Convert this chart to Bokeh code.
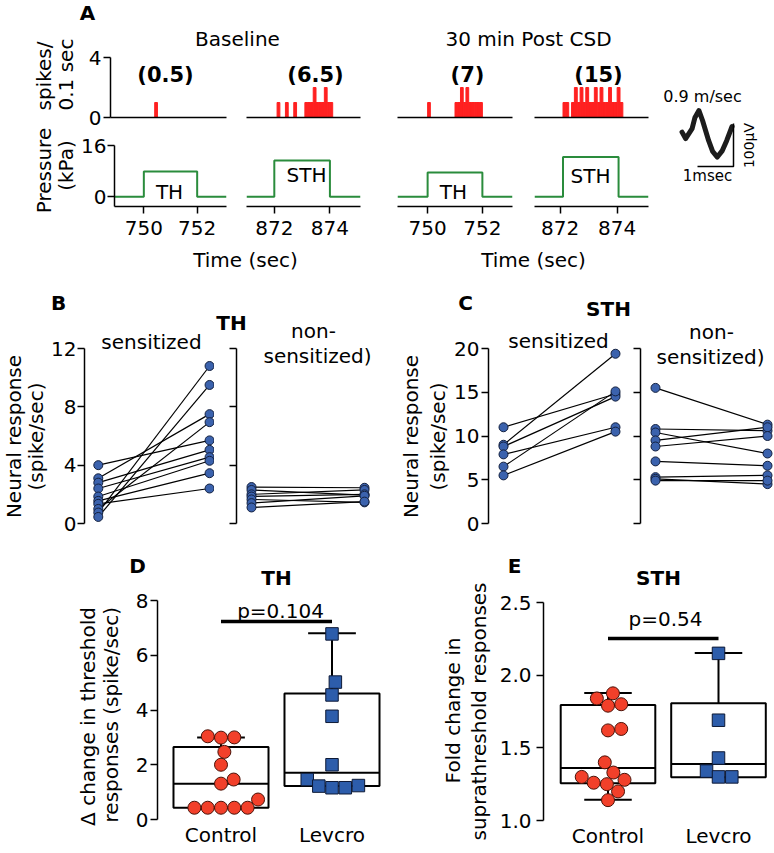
import math
from bokeh.plotting import figure
from bokeh.models import Range1d, LinearAxis, FixedTicker, Label, NumeralTickFormatter
from bokeh.layouts import row, column
from bokeh.embed import file_html
from bokeh.resources import INLINE

FONT = "DejaVu Sans"
FS = "20px"

# ------------------------------------------------------------------ DATA
# Panel A : spikes per 0.1 s bin (bin centre in s, count)
base_th_t = [750.55]
base_th_n = [1]
base_sth_t = [872.15, 872.45, 872.75, 873.15, 873.25, 873.35, 873.45, 873.55,
              873.65, 873.75, 873.85, 873.95, 874.05]
base_sth_n = [1, 1, 1, 1, 1, 1, 2, 1, 1, 1, 2, 1, 1]
post_th_t = [750.05, 751.05, 751.15, 751.25, 751.35, 751.45, 751.55, 751.65,
             751.75, 751.85, 751.95]
post_th_n = [1, 1, 1, 2, 1, 2, 1, 1, 1, 1, 1]
post_sth_t = [872.15, 872.25, 872.45, 872.55, 872.65, 872.75, 872.85, 872.95,
              873.05, 873.15, 873.25, 873.35, 873.45, 873.55, 873.65, 873.75,
              873.85, 873.95, 874.05, 874.15]
post_sth_n = [1, 1, 1, 2, 1, 2, 1, 2, 1, 1, 2, 1, 2, 1, 1, 2, 1, 1, 2, 1]
rate_labels = ["(0.5)", "(6.5)", "(7)", "(15)"]

# Panel A : mechanical stimulus (s, s, kPa)
stim_on = [750.0, 872.0, 750.0, 872.1]
stim_off = [752.0, 874.0, 752.0, 874.05]
stim_kpa = [7.9, 11.3, 7.6, 12.4]
stim_names = ["TH", "STH", "TH", "STH"]
windows = [(748.9, 753.1), (871.0, 875.1), (748.9, 753.1), (871.1, 875.1)]
time_ticks = [[750, 752], [872, 874], [750, 752], [872, 874]]
cond_titles = ["Baseline", "30 min Post CSD"]

# Panel A : spike waveform (ms, microvolt)
wf_ms = [-0.43, -0.33, -0.15, -0.07, 0.04, 0.14, 0.31, 0.42, 0.55, 0.69, 0.81, 0.96]
wf_uv = [80, 65, 88, 114, 130, 107, 60, 35, 22, 37, 60, 93]
scale_ms, scale_uv = 1, 100
cond_velocity = "0.9 m/sec"

# Panel B (TH) : neural response, baseline -> post CSD (spike/sec)
b_sens_pre = [4.0, 3.1, 2.8, 2.4, 1.85, 1.55, 1.35, 1.0, 0.75, 0.45]
b_sens_post = [5.7, 7.5, 5.05, 4.55, 4.3, 3.45, 2.4, 6.95, 10.8, 9.5]
b_non_pre = [2.5, 2.3, 2.0, 1.85, 1.65, 1.4, 1.1]
b_non_post = [2.45, 1.95, 2.3, 2.0, 1.45, 1.9, 1.5]
# Panel C (STH)
c_sens_pre = [11.0, 9.0, 8.8, 7.9, 6.5, 5.5]
c_sens_post = [14.8, 19.4, 14.5, 11.0, 15.1, 10.5]
c_non_pre = [15.5, 10.8, 10.4, 9.5, 8.8, 7.1, 5.3, 5.1, 4.9]
c_non_post = [11.3, 10.6, 8.0, 11.0, 10.0, 6.6, 5.5, 4.5, 4.9]

# Panel D : change in threshold responses (spike/sec)
groups = ["Control", "Levcro"]
d_control = [3.0, 3.04, 2.99, 2.47, 2.0, 1.46, 1.31, 0.73, 0.43, 0.43, 0.43, 0.43, 0.43]
d_levcro = [6.78, 5.02, 4.55, 3.77, 2.0, 1.46, 1.22, 1.16, 1.16, 1.24]
d_lo = [0.43, 1.22]
d_q1 = [0.43, 1.22]
d_med = [1.31, 1.71]
d_q3 = [2.65, 4.60]
d_hi = [3.0, 6.8]
d_p = "p=0.104"
# Panel E : fold change in suprathreshold responses
e_control = [1.84, 1.875, 1.79, 1.80, 1.63, 1.62, 1.40, 1.33, 1.30, 1.26, 1.25, 1.28, 1.20, 1.14]
e_levcro = [2.15, 1.69, 1.43, 1.34, 1.30, 1.30]
e_lo = [1.142, 1.298]
e_q1 = [1.257, 1.298]
e_med = [1.362, 1.389]
e_q3 = [1.795, 1.806]
e_hi = [1.877, 2.152]
e_p = "p=0.54"

# ------------------------------------------------------------------ STYLE
RED = "#ff2020"
GREEN = "#2a8c3c"
BLUE = "#3b62ad"
BLUE_EDGE = "#14213f"
ORANGE = "#f2402a"
ORANGE_EDGE = "#4a1208"
SQ = "#2d5dab"
SQ_EDGE = "#0e1a36"
ROT = math.pi / 2


def lin(p1, v1, p2, v2, p):
    return v1 + (p - p1) * (v2 - v1) / (p2 - p1)


class Geo:
    def __init__(s, X0, Y0, ml, mt, fw, fh, xr, yr):
        s.X0, s.Y0, s.ml, s.mt, s.fw, s.fh, s.xr, s.yr = X0, Y0, ml, mt, fw, fh, xr, yr

    def x(s, sx):
        return s.xr[0] + (sx - s.X0 - s.ml) * (s.xr[1] - s.xr[0]) / s.fw

    def y(s, sy):
        return s.yr[1] - (sy - s.Y0 - s.mt) * (s.yr[1] - s.yr[0]) / s.fh

    def kx(s):
        return s.fw / (s.xr[1] - s.xr[0])

    def ky(s):
        return s.fh / (s.yr[1] - s.yr[0])


def mk(X0, Y0, w, h, ml, mr, mt, mb, xr, yr):
    p = figure(width=w, height=h, x_range=Range1d(*xr), y_range=Range1d(*yr),
               output_backend="svg", toolbar_location=None, title=None,
               x_axis_location=None, y_axis_location=None,
               min_border_left=ml, min_border_right=mr,
               min_border_top=mt, min_border_bottom=mb)
    p.frame_align = False
    p.outline_line_color = None
    p.grid.visible = False
    return p, Geo(X0, Y0, ml, mt, w - ml - mr, h - mt - mb, xr, yr)


def textfig(X0, Y0, w, h):
    return mk(X0, Y0, w, h, 0, 0, 0, 0, (0, w), (h, 0))


def T(p, g, sx, sy, text, size=FS, bold=False, angle=0.0, align="center", baseline="middle"):
    p.add_layout(Label(x=g.x(sx), y=g.y(sy), text=text, text_font=FONT,
                       text_font_size=size, text_font_style="bold" if bold else "normal",
                       text_color="black", angle=angle, text_align=align,
                       text_baseline=baseline))


def style_axis(ax, size=FS):
    ax.axis_line_color = "black"
    ax.axis_line_width = 1.5
    ax.major_tick_line_color = "black"
    ax.major_tick_line_width = 1.5
    ax.major_tick_out = 7
    ax.major_tick_in = 0
    ax.minor_tick_line_color = None
    ax.major_label_text_font = FONT
    ax.major_label_text_font_size = size
    ax.major_label_text_color = "black"
    ax.major_label_standoff = 3


def yaxis(p, ticks, labels=True, fmt=None, bounds=None, standoff=3):
    ax = LinearAxis(ticker=FixedTicker(ticks=ticks))
    style_axis(ax)
    ax.major_label_standoff = standoff
    if bounds is not None:
        ax.bounds = bounds
    if not labels:
        ax.major_label_overrides = {t: "" for t in ticks}
        ax.major_label_standoff = 0
    if fmt is not None:
        ax.formatter = fmt
    p.add_layout(ax, "left")
    return ax


# ------------------------------------------------------------------ PANEL A
HDR_TOP = 50
S_BOT = 129
aleft, ga = textfig(0, 0, 78, 282)
T(aleft, ga, 43, 110, "spikes/", angle=ROT, align="left")
T(aleft, ga, 65, 110, "0.1 sec", angle=ROT, align="left")
T(aleft, ga, 43, 170, "Pressure", angle=ROT)
T(aleft, ga, 65, 165, "(kPa)", angle=ROT)

header, gh = textfig(78, 0, 578, HDR_TOP)
T(header, gh, 87, 12, "A", bold=True)
T(header, gh, 237, 38.5, cond_titles[0])
T(header, gh, 528, 38.5, cond_titles[1])

footer, gf = textfig(78, 245, 578, 37)
T(footer, gf, 245, 259, "Time (sec)")
T(footer, gf, 533, 259, "Time (sec)")

COLS = [(158, 32, 10), (142, 10, 18), (146, 19, 12), (132, 10, 8)]
spike_t = [base_th_t, base_sth_t, post_th_t, post_sth_t]
spike_n = [base_th_n, base_sth_n, post_th_n, post_sth_n]
rate_px = [(165, 74), (315, 74), (467, 74), (598, 74)]
stim_px = [(167, 191), (306, 174), (453, 191), (590, 175)]

s_figs, p_figs = [], []
X = 78
for i, (w, ml, mr) in enumerate(COLS):
    s, gs = mk(X, HDR_TOP, w, S_BOT - HDR_TOP, ml, mr, 7, S_BOT - 117, windows[i], (0, 4))
    s.vbar(x=spike_t[i], top=spike_n[i], bottom=0, width=0.1,
           fill_color=RED, line_color=RED, line_width=1)
    xa = LinearAxis(ticker=FixedTicker(ticks=[]))
    style_axis(xa)
    xa.major_tick_out = 0
    xa.major_label_standoff = 0
    s.add_layout(xa, "below")
    if i == 0:
        yaxis(s, [0, 4], standoff=2)
    T(s, gs, rate_px[i][0], rate_px[i][1], rate_labels[i], size="21px", bold=True)
    s_figs.append(s)

    pf, gp = mk(X, S_BOT, w, 245 - S_BOT, ml, mr, 145 - S_BOT, 39, windows[i], (-3, 16))
    x0, x1 = windows[i]
    tx = [x0, stim_on[i], stim_on[i], stim_off[i], stim_off[i], x1]
    ty = [0, 0, stim_kpa[i], stim_kpa[i], 0, 0]
    pf.line(tx, ty, line_color=GREEN, line_width=2)
    xb = LinearAxis(ticker=FixedTicker(ticks=time_ticks[i]))
    style_axis(xb)
    xb.major_label_standoff = 7
    pf.add_layout(xb, "below")
    if i == 0:
        yaxis(pf, [0, 16], standoff=1)
    T(pf, gp, stim_px[i][0], stim_px[i][1], stim_names[i])
    p_figs.append(pf)
    X += w

# waveform inset
INS_X0, INS_W, INS_H = 656, 118, 282
PX_MS, PX_UV = 36.0, 0.43
OX, OY = 697, 166
ixr = ((INS_X0 - OX) / PX_MS, (INS_X0 + INS_W - OX) / PX_MS)
iyr = ((OY - INS_H) / PX_UV, OY / PX_UV)
inset, gi = mk(INS_X0, 0, INS_W, INS_H, 0, 0, 0, 0, ixr, iyr)
inset.line(wf_ms, wf_uv, line_color="#1c1c1c", line_width=5,
           line_join="round", line_cap="round")
inset.line([0, scale_ms, scale_ms], [0, 0, scale_uv], line_color="black", line_width=1.5)
T(inset, gi, 702, 96, cond_velocity, size="16px")
T(inset, gi, 707, 175, "1msec", size="15px")
T(inset, gi, 748, 145, "100\u00b5V", size="14px", angle=ROT)

top = row(aleft, column(header, row(*s_figs), row(*p_figs), footer), inset)

# ------------------------------------------------------------------ PANELS B, C
BC_Y, BC_BOT = 282, 541


def pairs(p, pre, post):
    n = len(pre)
    p.segment(x0=[0] * n, y0=pre, x1=[1] * n, y1=post, line_color="black", line_width=1.2)
    p.scatter([0] * n, pre, size=9, fill_color=BLUE, line_color=BLUE_EDGE, line_width=1)
    p.scatter([1] * n, post, size=9, fill_color=BLUE, line_color=BLUE_EDGE, line_width=1)


def bc_plot(X0, Y0, w, ml, mr, fl, fr, pre_px, post_px, top_val):
    fb = 523
    xr = (lin(pre_px, 0, post_px, 1, fl), lin(pre_px, 0, post_px, 1, fr))
    yr = (0, lin(523, 0, 348, top_val, Y0))
    return mk(X0, Y0, w, BC_BOT - Y0, ml, mr, 0, BC_BOT - fb, xr, yr)


bl, gbl = textfig(0, BC_Y, 48, BC_BOT - BC_Y)
T(bl, gbl, 13, 436, "Neural response", angle=ROT)
T(bl, gbl, 35, 436, "(spike/sec)", angle=ROT)

hb1, ghb1 = textfig(48, BC_Y, 166, 36)
T(hb1, ghb1, 58, 302, "B", bold=True)
b1, gb1 = bc_plot(48, 318, 166, 34, 0, 82, 214, 96, 209, 12)
yaxis(b1, [0, 4, 8, 12], bounds=(0, 12), standoff=1)
pairs(b1, b_sens_pre, b_sens_post)
T(b1, gb1, 150, 341, "sensitized")

hb2, ghb2 = textfig(214, BC_Y, 170, 62)
T(hb2, ghb2, 231, 322, "TH", bold=True)
T(hb2, ghb2, 313, 330, "non-")
b2, gb2 = bc_plot(214, 344, 170, 22, 10, 236, 374, 251, 364, 12)
yaxis(b2, [0, 4, 8, 12], labels=False, bounds=(0, 12))
pairs(b2, b_non_pre, b_non_post)
T(b2, gb2, 317, 355, "sensitized)")

cl, gcl = textfig(384, BC_Y, 66, BC_BOT - BC_Y)
T(cl, gcl, 410, 436, "Neural response", angle=ROT)
T(cl, gcl, 437, 436, "(spike/sec)", angle=ROT)

hc1, ghc1 = textfig(450, BC_Y, 183, 40)
T(hc1, ghc1, 465, 302, "C", bold=True)
T(hc1, ghc1, 608, 308, "STH", bold=True)
c1, gc1 = bc_plot(450, 322, 183, 38, 5, 488, 628, 503, 615, 20)
yaxis(c1, [0, 5, 10, 15, 20], bounds=(0, 20), standoff=2)
pairs(c1, c_sens_pre, c_sens_post)
T(c1, gc1, 558, 340, "sensitized")

c2, gc2 = bc_plot(633, BC_Y, 141, 7, 0, 640, 774, 655, 767, 20)
yaxis(c2, [0, 5, 10, 15, 20], labels=False, bounds=(0, 20))
pairs(c2, c_non_pre, c_non_post)
T(c2, gc2, 711, 331, "non-")
T(c2, gc2, 710, 356, "sensitized)")

bc = row(bl, column(hb1, b1), column(hb2, b2), cl, column(hc1, c1), c2)

# ------------------------------------------------------------------ PANELS D, E
DE_Y, DE_BOT, HDR_H = 541, 853, 48
BOX_W, CAP_W = 0.856, 0.43


def swarm(vals, diam, kx, ky):
    placed, out = [], [0.0] * len(vals)
    for i in sorted(range(len(vals)), key=lambda k: vals[k]):
        yy = vals[i] * ky
        cands = [0.0]
        for (px, py) in placed:
            dy = abs(py - yy)
            if dy < diam:
                dx = math.sqrt(diam ** 2 - dy ** 2)
                cands += [px - dx, px + dx]
        cands.sort(key=lambda c: (abs(c), -c))
        best = 0.0
        for c in cands:
            if all((c - px) ** 2 + (yy - py) ** 2 >= diam ** 2 - 1e-6 for px, py in placed):
                best = c
                break
        placed.append((best, yy))
        out[i] = best / kx
    return out


def boxplot(p, g, lo, q1, med, q3, hi, ctrl, lev):
    xs = [0, 1]
    p.vbar(x=xs, width=BOX_W, bottom=q1, top=q3, fill_color="white",
           line_color="black", line_width=2)
    p.segment(x0=[x - BOX_W / 2 for x in xs], y0=med, x1=[x + BOX_W / 2 for x in xs], y1=med,
              line_color="black", line_width=2)
    for x, a, b, c, d in zip(xs, lo, q1, q3, hi):
        if d > c:
            p.segment(x0=[x, x - CAP_W / 2], y0=[c, d], x1=[x, x + CAP_W / 2], y1=[d, d],
                      line_color="black", line_width=2)
        if a < b:
            p.segment(x0=[x, x - CAP_W / 2], y0=[b, a], x1=[x, x + CAP_W / 2], y1=[a, a],
                      line_color="black", line_width=2)
    kx, ky = g.kx(), g.ky()
    offc = swarm(ctrl, 13.3, kx, ky)
    offl = swarm(lev, 13.3, kx, ky)
    p.scatter([0 + o for o in offc], ctrl, size=13, fill_color=ORANGE,
              line_color=ORANGE_EDGE, line_width=1)
    p.scatter([1 + o for o in offl], lev, marker="square", size=12.5, fill_color=SQ,
              line_color=SQ_EDGE, line_width=1)
    xa = LinearAxis(ticker=FixedTicker(ticks=[0, 1]),
                    major_label_overrides={0: groups[0], 1: groups[1]})
    style_axis(xa)
    xa.axis_line_color = None
    xa.major_tick_line_color = None
    xa.major_tick_out = 0
    xa.major_label_standoff = 3
    p.add_layout(xa, "below")


# D
dl, gdl = textfig(0, DE_Y, 124, DE_BOT - DE_Y)
T(dl, gdl, 87, 716, "\u0394 change in threshold", angle=ROT)
T(dl, gdl, 110, 711, "responses  (spike/sec)", angle=ROT)
hd, ghd = textfig(124, DE_Y, 276, HDR_H)
T(hd, ghd, 137, 565, "D", bold=True)
T(hd, ghd, 276, 577, "TH", bold=True)
PY = DE_Y + HDR_H
d_xr = (lin(220.5, 0, 331.5, 1, 157), lin(220.5, 0, 331.5, 1, 385))
d_yr = (0, lin(819, 0, 600, 8, PY))
d, gd = mk(124, PY, 276, DE_BOT - PY, 33, 15, 0, DE_BOT - 819, d_xr, d_yr)
yaxis(d, [0, 2, 4, 6, 8], bounds=(0, 8), standoff=2)
boxplot(d, gd, d_lo, d_q1, d_med, d_q3, d_hi, d_control, d_levcro)
d.segment(x0=[0], y0=[gd.y(621)], x1=[1], y1=[gd.y(621)], line_color="black", line_width=3.5)
T(d, gd, 280, 610, d_p)

# E
el, gel = textfig(400, DE_Y, 92, DE_BOT - DE_Y)
T(el, gel, 452, 710, "Fold change in", angle=ROT)
T(el, gel, 478, 711, "suprathreshold responses", angle=ROT)
he, ghe = textfig(492, DE_Y, 282, HDR_H)
T(he, ghe, 514, 565, "E", bold=True)
T(he, ghe, 658, 577, "STH", bold=True)
e_xr = (lin(607.5, 0, 718, 1, 543), lin(607.5, 0, 718, 1, 774))
e_yr = (1.0, lin(820, 1.0, 602, 2.5, PY))
e, ge = mk(492, PY, 282, DE_BOT - PY, 51, 0, 0, DE_BOT - 820, e_xr, e_yr)
yaxis(e, [1.0, 1.5, 2.0, 2.5], fmt=NumeralTickFormatter(format="0.0"), bounds=(1.0, 2.5),
      standoff=5)
boxplot(e, ge, e_lo, e_q1, e_med, e_q3, e_hi, e_control, e_levcro)
e.segment(x0=[0], y0=[ge.y(638)], x1=[1], y1=[ge.y(638)], line_color="black", line_width=3.5)
T(e, ge, 665, 618, e_p)

de = row(dl, column(hd, d), el, column(he, e))

layout = column(top, bc, de)
open("out.html", "w").write(file_html(layout, INLINE))
